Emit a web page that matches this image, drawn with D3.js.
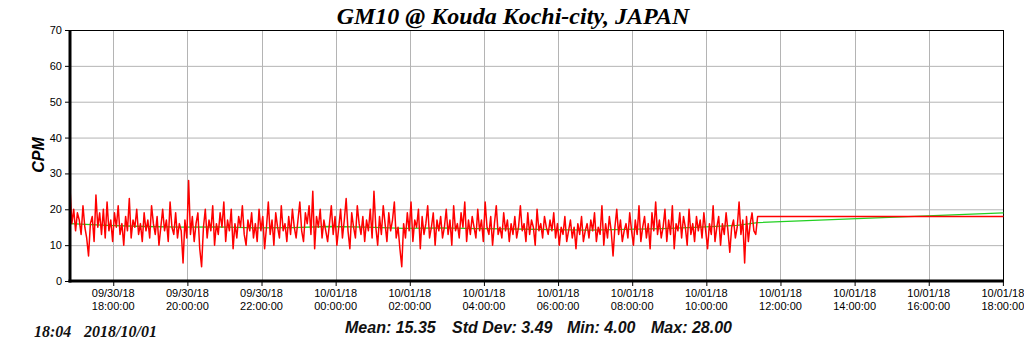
<!DOCTYPE html>
<html>
<head>
<meta charset="utf-8">
<script src="https://cdn.jsdelivr.net/npm/d3@7"></script>
<style>
  body { margin: 0; background: #fff; }
  svg { display: block; }
</style>
</head>
<body>
<div id="chart"></div>
<script>
// chart text
const titleText = "GM10 @ Kouda Kochi-city, JAPAN";
const yLabel = "CPM";
const stampText = ["18:04", "2018/10/01"];
const statsText = ["Mean: 15.35", "Std Dev: 3.49", "Min: 4.00", "Max: 28.00"];

// axis ranges / ticks
const yTicks = [0, 10, 20, 30, 40, 50, 60, 70];
const xStart = "2018-09-30T16:50:00";
const xEnd = "2018-10-01T18:01:00";

// red series: counts per minute, one reading every 3 minutes from xStart
const sampleMinutes = 3;
const cpmValues = [
  26,16,20,14,19,17,13,21,15,12,7,16,18,11,24,15,19,13,20,12,
  22,14,17,11,19,15,21,13,16,10,18,14,23,12,17,15,20,13,16,11,
  19,14,17,12,21,16,13,18,10,15,20,14,17,11,22,15,13,19,12,16,
  14,5,17,12,28,13,18,11,16,19,9,4,15,20,12,17,14,21,10,16,
  13,19,15,22,11,17,14,20,9,16,12,18,15,21,13,10,17,14,19,12,
  16,11,20,14,18,9,15,22,13,17,10,19,15,12,21,14,16,11,18,13,
  20,15,12,17,22,14,11,19,16,21,13,25,9,18,15,20,12,17,14,11,
  16,21,13,18,10,15,20,12,17,23,14,9,19,15,12,21,16,13,18,11,
  17,14,20,12,25,15,10,18,13,21,16,11,19,14,17,22,12,15,9,4,
  16,12,19,14,22,11,17,15,20,9,18,13,16,21,12,15,19,10,17,14,
  18,12,15,20,13,17,10,21,14,16,12,19,15,22,11,17,13,18,15,12,
  20,14,17,11,22,15,13,18,10,16,21,13,15,12,19,14,17,11,16,13,
  18,12,15,21,14,16,11,19,13,17,15,10,20,14,16,12,18,15,13,17,
  14,19,12,16,10,15,13,18,11,14,17,12,15,9,16,13,18,11,14,16,
  12,17,14,19,11,15,13,21,10,16,12,18,14,7,15,20,13,17,11,14,
  16,12,19,14,10,17,13,21,11,15,18,12,16,9,19,14,22,13,17,12,
  15,20,11,17,13,21,9,16,14,19,12,18,15,10,20,13,16,11,18,14,
  17,12,19,14,9,16,13,21,11,15,18,10,16,13,19,14,8,15,17,12,
  15,22,13,17,5,18,11,16,19,14,13,18
];
// last reported value carried to the end of the window
const tailTime = "2018-10-01T18:01:00";
const tailValue = 18;

// green series: running average
const avgTimes = [
  "2018-09-30T16:50:00", "2018-09-30T17:50:00", "2018-09-30T18:50:00",
  "2018-09-30T19:50:00", "2018-09-30T20:50:00", "2018-09-30T21:50:00",
  "2018-09-30T22:50:00", "2018-09-30T23:50:00", "2018-10-01T00:50:00",
  "2018-10-01T01:50:00", "2018-10-01T02:50:00", "2018-10-01T03:50:00",
  "2018-10-01T04:50:00", "2018-10-01T05:50:00", "2018-10-01T06:50:00",
  "2018-10-01T07:50:00", "2018-10-01T08:50:00", "2018-10-01T09:50:00",
  "2018-10-01T10:50:00", "2018-10-01T11:23:00", "2018-10-01T18:01:00"
];
const avgValues = [
  16.0, 15.5, 15.2, 15.0, 15.1, 14.8, 14.9, 15.2, 15.0, 14.7,
  14.8, 14.6, 14.5, 14.3, 14.2, 14.4, 14.6, 15.0, 15.5, 16.3, 19.0
];

const width = 1024, height = 351;
const margin = { top: 30, right: 20.5, bottom: 70, left: 70 };

const svg = d3.select("#chart").append("svg")
  .attr("width", width)
  .attr("height", height);

const parse = d3.timeParse("%Y-%m-%dT%H:%M:%S");

const x = d3.scaleTime()
  .domain([parse(xStart), parse(xEnd)])
  .range([margin.left, width - margin.right]);

const y = d3.scaleLinear()
  .domain([0, 70])
  .range([height - margin.bottom, margin.top]);

const t0 = parse(xStart);
const redData = cpmValues.map((v, i) => ({ t: d3.timeMinute.offset(t0, i * sampleMinutes), v: v }));
redData.push({ t: parse(tailTime), v: tailValue });
const greenData = avgTimes.map((t, i) => ({ t: parse(t), v: avgValues[i] }));

const xTickVals = x.ticks(d3.timeHour.every(2));
const plotTop = margin.top, plotBottom = height - margin.bottom;
const plotLeft = margin.left, plotRight = width - margin.right;

// grid
svg.append("g").selectAll("line").data(yTicks.slice(1)).join("line")
  .attr("x1", plotLeft).attr("x2", plotRight)
  .attr("y1", d => y(d) + 0.5).attr("y2", d => y(d) + 0.5)
  .attr("stroke", "#b4b4b4").attr("stroke-width", 1);

svg.append("g").selectAll("line").data(xTickVals).join("line")
  .attr("x1", d => Math.round(x(d)) + 0.5).attr("x2", d => Math.round(x(d)) + 0.5)
  .attr("y1", plotTop).attr("y2", plotBottom)
  .attr("stroke", "#b4b4b4").attr("stroke-width", 1);

// plot frame (thin top / right)
svg.append("rect")
  .attr("x", plotLeft).attr("y", plotTop + 0.5)
  .attr("width", plotRight - plotLeft).attr("height", plotBottom - plotTop)
  .attr("fill", "none").attr("stroke", "#000").attr("stroke-width", 1);

// lines
const line = d3.line().x(d => x(d.t)).y(d => y(d.v));

svg.append("path").datum(greenData)
  .attr("d", line)
  .attr("fill", "none").attr("stroke", "#22d022").attr("stroke-width", 1.3);

svg.append("path").datum(redData)
  .attr("d", line)
  .attr("fill", "none").attr("stroke", "#ff0000").attr("stroke-width", 1.5)
  .attr("stroke-linejoin", "round");

// y axis
const yAxis = svg.append("g")
  .attr("transform", "translate(" + plotLeft + ",0)")
  .call(d3.axisLeft(y).tickValues(yTicks).tickSize(5).tickPadding(3));
yAxis.select(".domain").remove();
yAxis.selectAll(".tick line").attr("stroke", "#000");
yAxis.selectAll("text")
  .style("font-family", "'Liberation Sans', Arial, sans-serif")
  .style("font-size", "11px").attr("fill", "#000");
svg.append("line")
  .attr("x1", plotLeft).attr("x2", plotLeft)
  .attr("y1", plotTop).attr("y2", plotBottom + 1.5)
  .attr("stroke", "#000").attr("stroke-width", 3);

// x axis
const xAxis = svg.append("g")
  .attr("transform", "translate(0," + plotBottom + ")")
  .call(d3.axisBottom(x).tickValues(xTickVals).tickSize(5).tickFormat(""));
xAxis.select(".domain").remove();
xAxis.selectAll(".tick line").attr("stroke", "#000");
svg.append("line")
  .attr("x1", plotLeft - 1.5).attr("x2", plotRight + 0.5)
  .attr("y1", plotBottom).attr("y2", plotBottom)
  .attr("stroke", "#000").attr("stroke-width", 3);

const fmtDate = d3.timeFormat("%m/%d/%y");
const fmtTime = d3.timeFormat("%H:%M:%S");
const xLabels = svg.append("g")
  .style("font-family", "'Liberation Sans', Arial, sans-serif")
  .style("font-size", "11px").attr("fill", "#000")
  .attr("text-anchor", "middle");
xLabels.selectAll("text.d").data(xTickVals).join("text")
  .attr("class", "d")
  .attr("x", d => x(d)).attr("y", plotBottom + 16)
  .text(d => fmtDate(d));
xLabels.selectAll("text.t").data(xTickVals).join("text")
  .attr("class", "t")
  .attr("x", d => x(d)).attr("y", plotBottom + 29)
  .text(d => fmtTime(d));

// title
svg.append("text")
  .attr("x", 513).attr("y", 24)
  .attr("text-anchor", "middle")
  .style("font-family", "'Liberation Serif', 'Times New Roman', serif")
  .style("font-weight", "bold").style("font-style", "italic")
  .style("font-size", "24px")
  .text(titleText);

// y label
svg.append("text")
  .attr("transform", "translate(44,155) rotate(-90)")
  .attr("text-anchor", "middle")
  .style("font-family", "'Liberation Sans', Arial, sans-serif")
  .style("font-weight", "bold").style("font-style", "italic")
  .style("font-size", "16px")
  .text(yLabel);

// stats line
const statsX = [345, 452, 567, 651];
svg.append("g")
  .style("font-family", "'Liberation Sans', Arial, sans-serif")
  .style("font-weight", "bold").style("font-style", "italic")
  .style("font-size", "16px").attr("fill", "#111")
  .selectAll("text").data(statsText).join("text")
  .attr("x", (d, i) => statsX[i]).attr("y", 333)
  .text(d => d);

// timestamp
const stampX = [34, 84];
svg.append("g")
  .style("font-family", "'Liberation Serif', 'Times New Roman', serif")
  .style("font-weight", "bold").style("font-style", "italic")
  .style("font-size", "16px").attr("fill", "#111")
  .selectAll("text").data(stampText).join("text")
  .attr("x", (d, i) => stampX[i]).attr("y", 337)
  .text(d => d);
</script>
</body>
</html>
